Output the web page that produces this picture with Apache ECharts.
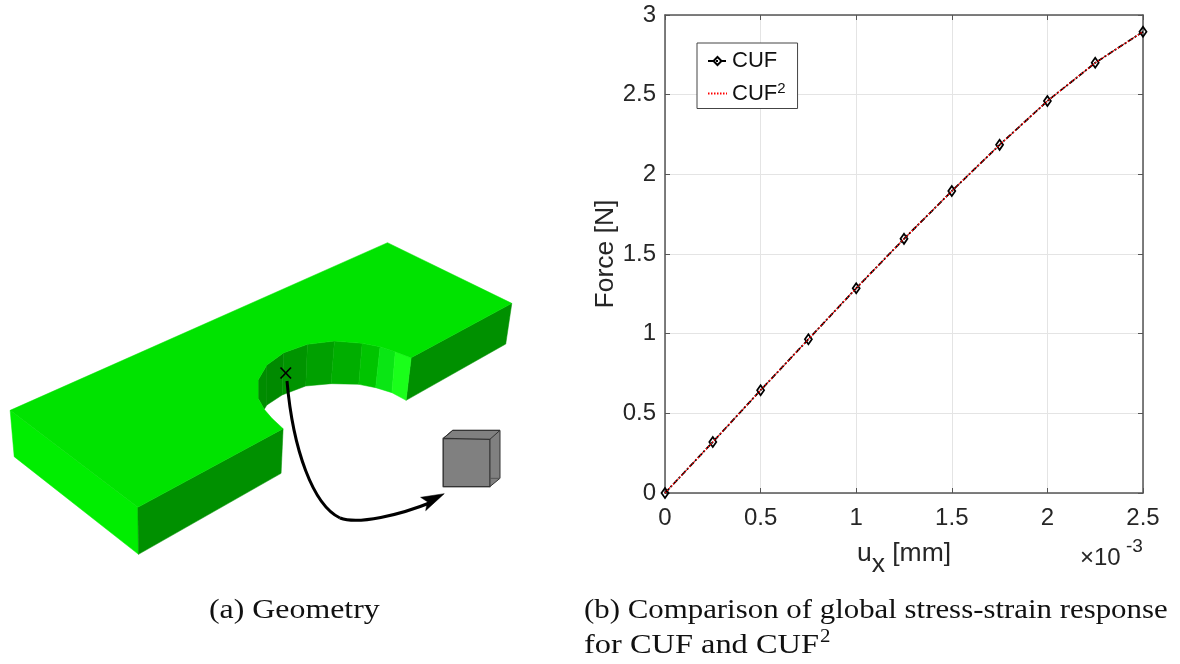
<!DOCTYPE html>
<html><head><meta charset="utf-8">
<style>html,body{margin:0;padding:0;background:#fff}#c{width:1180px;height:664px}</style>
<script src="https://cdn.jsdelivr.net/npm/echarts@6/dist/echarts.min.js"></script>
</head><body><div id="c"></div>
<script>
var displacement = [0,0.25,0.5,0.75,1,1.25,1.5,1.75,2,2.25,2.5];
var forceCUF  = [0,0.32,0.645,0.965,1.285,1.595,1.895,2.185,2.46,2.70,2.895];
var forceCUF2 = [0,0.32,0.645,0.965,1.285,1.595,1.895,2.185,2.46,2.70,2.895];
var xTicksInterval = 0.5, yTicksInterval = 0.5;

function pairs(xs, ys){ return xs.map(function(x,i){ return [x, ys[i]]; }); }
// illustration geometry (sketched from zoom coordinates)
var SX = 2.96, SY = 3, OY = 230;
function P(list){ return list.map(function(p){ return [p[0]/SX, p[1]/SY+OY]; }); }
function poly(pts, fill, stroke, lw){
  return {type:'polygon', silent:true, shape:{points:P(pts)},
    style:{fill:fill, stroke:stroke||fill, lineWidth:lw===undefined?0.5:lw}};
}
function caption(text, x, y, sx, size){
  return {type:'text', silent:true, x:x, y:y, scaleX:sx,
    style:{text:text, font:(size||27)+'px "Liberation Serif"', fill:'#111'}};
}
var illustration = [
  poly([[30,541],[408,832],[410,973],[42,680]], '#00ee00'),
  poly([[408,832],[838,596],[832,730],[410,973]], '#009000'),
  poly([[1217,383],[1515,220],[1497,342],[1202,511]], '#009000'),
  poly([[764,450],[790,405],[790,525],[782,538],[764,505]], '#008c00'),
  poly([[790,405],[840,368],[835,495],[790,525]], '#008a00'),
  poly([[840,368],[910,343],[905,468],[835,495]], '#009400'),
  poly([[910,343],[990,333],[980,461],[905,468]], '#00a000'),
  poly([[990,333],[1072,340],[1062,463],[980,461]], '#00ae00'),
  poly([[1072,340],[1125,350],[1112,473],[1062,463]], '#00c400'),
  poly([[1125,350],[1170,365],[1160,488],[1112,473]], '#0ae614'),
  poly([[1170,365],[1217,383],[1202,511],[1160,488]], '#1aff1a'),
  poly([[30,541],[1147,38],[1515,220],[1217,383],[1170,365],[1125,350],[1072,340],[990,333],[910,343],[840,368],[790,405],[764,450],[764,505],[782,538],[805,565],[838,596],[408,832]], '#00e300'),
  // cube
  poly([[1340,601],[1480,601],[1480,745],[1450,770],[1312,770],[1312,625]], '#808080', '#333', 1),
  poly([[1312,625],[1450,628],[1450,770],[1312,770]], '#808080', '#333', 1.2),
  {type:'polyline', silent:true, shape:{points:P([[1312,625],[1340,601],[1480,601],[1450,628]])}, style:{stroke:'#333',fill:'none',lineWidth:1}},
  {type:'polyline', silent:true, shape:{points:P([[1450,745],[1480,745]])}, style:{stroke:'#555',fill:'none',lineWidth:1}},
  // X mark
  {type:'line', silent:true, shape:{x1:280.5,y1:367.5,x2:291,y2:378.5}, style:{stroke:'#000',lineWidth:1.7}},
  {type:'line', silent:true, shape:{x1:291,y1:367.5,x2:280.5,y2:378.5}, style:{stroke:'#000',lineWidth:1.7}},
  // arrow
  {type:'bezierCurve', silent:true, shape:{x1:287,y1:381,cpx1:293,cpy1:450,cpx2:313,cpy2:505,x2:340,y2:518}, style:{stroke:'#000',fill:'none',lineWidth:3}},
  {type:'bezierCurve', silent:true, shape:{x1:340,y1:518,cpx1:358,cpy1:525,cpx2:400,cpy2:515,x2:432,y2:502}, style:{stroke:'#000',fill:'none',lineWidth:3}},
  poly([[1315,791],[1245,802],[1265,815],[1260,842]], '#000'),
  // captions
  caption('(a) Geometry', 209, 597, 1.18),
  caption('(b) Comparison of global stress-strain response', 584, 597, 1.143),
  caption('for CUF and CUF', 584, 632, 1.2),
  caption('2', 820, 628, 1.1, 19),
  // exponent
  {type:'text', silent:true, x:1080, y:546, style:{text:'\u00d710', font:'24px "Liberation Sans"', fill:'#262626'}},
  {type:'text', silent:true, x:1126, y:537, style:{text:'-3', font:'19px "Liberation Sans"', fill:'#262626'}}
];

var axisCol = '#555';
var font = '"Liberation Sans"';
var tick = {show:true,inside:true,length:5,lineStyle:{color:axisCol}};
var line = {show:true,onZero:false,lineStyle:{color:axisCol,width:1.5}};
var option = {
  animation:false,
  backgroundColor:'#fff',
  grid:{left:665, top:15, width:478, height:478, containLabel:false},
  graphic:{elements:illustration},
  legend:{
    left:697, top:43, orient:'vertical', padding:[7,12,4,10], itemGap:9,
    itemWidth:19, itemHeight:10, backgroundColor:'#fff',
    borderColor:'#444', borderWidth:1, borderRadius:0, selectedMode:false,
    textStyle:{fontFamily:font, fontSize:22, color:'#111',
      rich:{t:{fontFamily:font,fontSize:22,color:'#111'},
            p:{fontFamily:font,fontSize:15,color:'#111',padding:[0,0,10,0]}}},
    formatter:function(n){ return n==='CUF' ? '{t|CUF}' : '{t|CUF}{p|2}'; },
    data:['CUF','CUF2']
  },
  xAxis:[{
    type:'value', min:0, max:2.5, interval:xTicksInterval, position:'bottom',
    name:'{a|u}{s|x}{a| [mm]}', nameLocation:'middle', nameGap:36,
    nameTextStyle:{rich:{a:{fontFamily:font,fontSize:26.5,color:'#262626'},
      s:{fontFamily:font,fontSize:26.5,color:'#262626',padding:[22,0,0,0]}}},
    axisLine:line, axisTick:tick,
    axisLabel:{fontFamily:font,fontSize:24,color:'#262626',margin:13,hideOverlap:false},
    splitLine:{show:true,lineStyle:{color:'#e4e4e4',width:1}}
  },{
    type:'value', min:0, max:2.5, interval:xTicksInterval, position:'top',
    axisLine:line, axisTick:tick, axisLabel:{show:false}, splitLine:{show:false}
  }],
  yAxis:[{
    type:'value', min:0, max:3, interval:yTicksInterval, position:'left',
    name:'Force [N]', nameLocation:'middle', nameGap:46, nameRotate:90,
    nameTextStyle:{fontFamily:font,fontSize:26.5,color:'#262626'},
    axisLine:line, axisTick:tick,
    axisLabel:{fontFamily:font,fontSize:24,color:'#262626',margin:9,padding:[5,0,0,0]},
    splitLine:{show:true,lineStyle:{color:'#e4e4e4',width:1}}
  },{
    type:'value', min:0, max:3, interval:yTicksInterval, position:'right',
    axisLine:line, axisTick:tick, axisLabel:{show:false}, splitLine:{show:false}
  }],
  series:[{
    name:'CUF', type:'line', clip:false, data:pairs(displacement,forceCUF), z:5,
    symbol:'diamond', symbolSize:[7,10], showSymbol:true,
    lineStyle:{color:'#000',width:1.8,type:[6,2,2,2]},
    itemStyle:{color:'transparent',borderColor:'#000',borderWidth:1.8}
  },{
    name:'CUF2', type:'line', clip:false, data:pairs(displacement,forceCUF2), z:6,
    symbol:'none',
    lineStyle:{color:'#ff0000',width:1.3,type:[1.5,1.5]},
    itemStyle:{color:'transparent',borderWidth:0}
  }]
};
echarts.init(document.getElementById('c'),null,{renderer:'canvas'}).setOption(option);
</script></body></html>
